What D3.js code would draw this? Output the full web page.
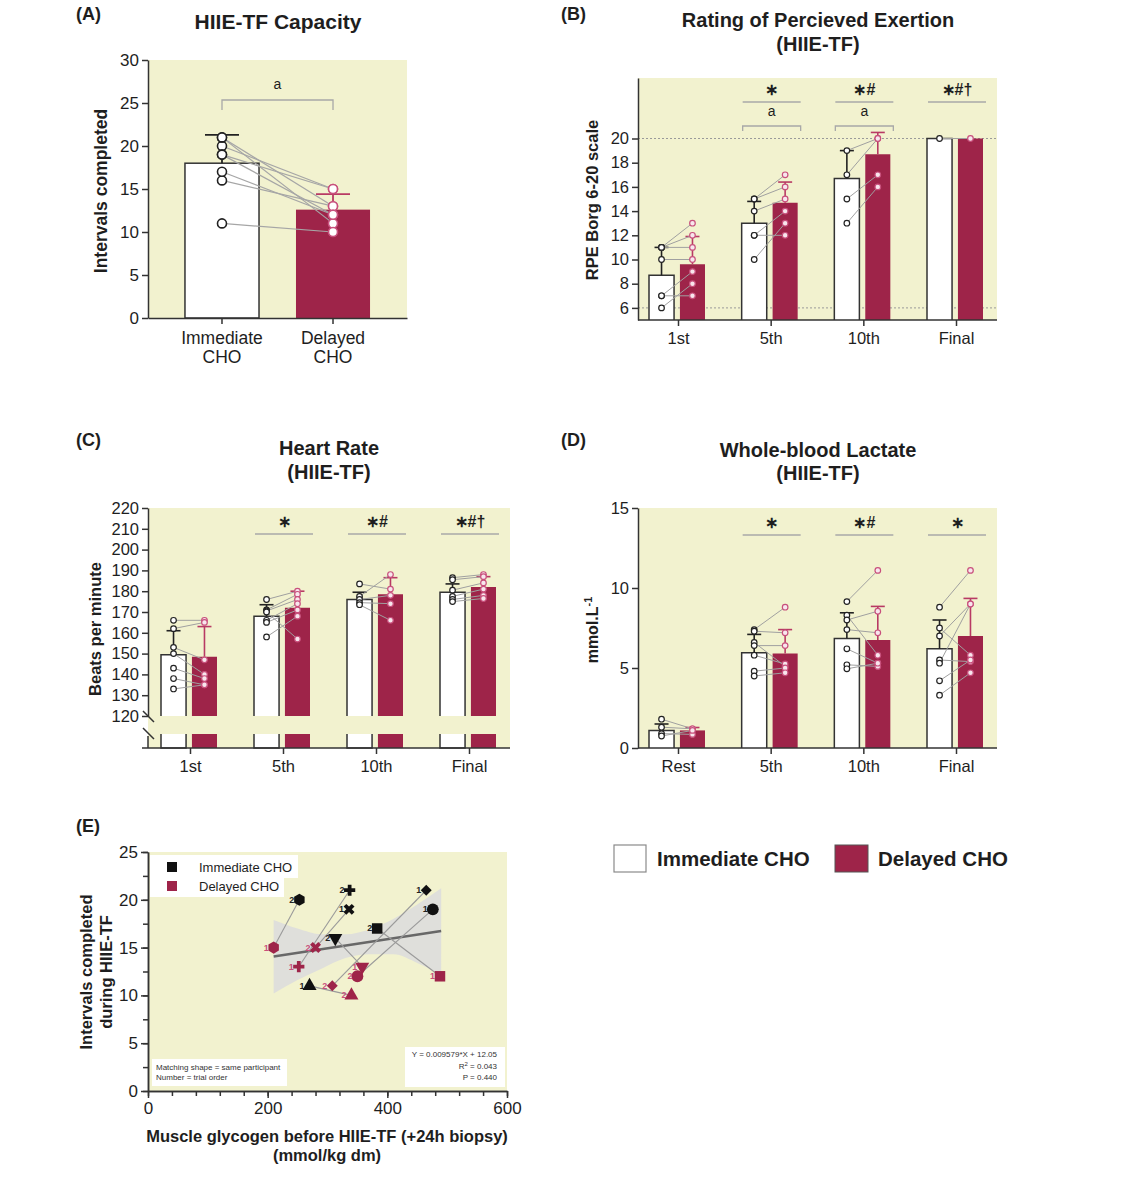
<!DOCTYPE html>
<html>
<head>
<meta charset="utf-8">
<script src="https://cdn.jsdelivr.net/npm/d3@7"></script>
<style>body{margin:0;background:#fff}</style>
</head>
<body>
<div id="chart"></div>
<script>
// ---- (A) capacity ----
const capLabels = ["Immediate", "Delayed"];
const capMeans = [18.0, 12.6];
const capErrTop = [21.3, 14.4];
const capImm = [20, 21, 19, 16, 17, 21, 19, 11];
const capDel = [15, 13, 15, 13, 12, 11, 12, 10];

// ---- (B) RPE ----
const rpeStages = ["1st", "5th", "10th", "Final"];
const rpeImmMean = [8.7, 13.0, 16.7, 20];
const rpeDelMean = [9.6, 14.7, 18.7, 20];
const rpeImmErr = [11.0, 14.8, 19.0, 20];
const rpeDelErr = [11.9, 16.4, 20.5, 20];
const rpeImmPts = [[11, 11, 11, 10, 7, 7, 6], [15, 15, 14, 12, 12, 10], [19, 17, 15, 13], [20]];
const rpeDelPts = [[13, 12, 11, 10, 9, 7, 8], [17, 16, 15, 14, 12, 13], [20, 20, 17, 16], [20]];
const rpeStars = ["", "∗", "∗#", "∗#†"];
const rpeLetters = ["", "a", "a", ""];

// ---- (C) heart rate ----
const hrStages = ["1st", "5th", "10th", "Final"];
const hrImmMean = [149.5, 168, 176, 179.5];
const hrDelMean = [148.5, 172, 178.5, 182];
const hrImmErr = [161, 173.5, 179.5, 183.5];
const hrDelErr = [163, 180, 186.5, 187];
const hrImmPts = [[166, 162, 153, 150, 143, 138, 133], [176, 171, 170.5, 166, 165, 158, 170],
                  [183.5, 177.5, 176, 174.5, 173.5], [186.5, 185.5, 180.5, 177.5, 176, 175]];
const hrDelPts = [[166, 165, 147, 140, 138, 135, 135], [180, 178.5, 176, 174, 171, 168, 157],
                  [181, 188, 178, 174, 166], [188, 187, 184, 181, 178, 176.5]];
const hrStars = ["", "∗", "∗#", "∗#†"];

// ---- (D) lactate ----
const lacStages = ["Rest", "5th", "10th", "Final"];
const lacImmMean = [1.1, 5.95, 6.85, 6.2];
const lacDelMean = [1.1, 5.9, 6.75, 7.0];
const lacImmErr = [1.5, 7.1, 8.45, 8.0];
const lacDelErr = [1.28, 7.4, 8.85, 9.35];
const lacImmPts = [[1.8, 1.3, 0.9, 0.75], [7.4, 7.3, 6.6, 6.4, 5.8, 4.8, 4.5],
                   [9.15, 8.3, 8.0, 7.4, 6.2, 5.2, 4.95], [8.8, 7.5, 7.0, 5.5, 5.3, 4.2, 3.3]];
const lacDelPts = [[1.2, 1.2, 0.85, 1.1], [8.8, 7.2, 5.1, 6.4, 5.25, 5.0, 4.7],
                   [11.1, 5.8, 8.55, 7.2, 5.3, 5.1, 5.3], [11.1, 5.8, 9.0, 5.4, 9.0, 5.5, 4.7]];
const lacStars = ["", "∗", "∗#", "∗"];

// ---- (E) glycogen vs intervals ----
const glyShapes = ["hexagon", "plus", "times", "triDown", "square", "diamond", "circle", "triUp"];
const glyImmX = [253, 337, 336, 313, 383, 465, 476, 270];
const glyImmOrder = [2, 2, 1, 2, 2, 1, 1, 1];
const glyDelX = [210, 252, 280, 358, 488, 308, 350, 340];
const glyDelOrder = [1, 1, 2, 1, 1, 2, 2, 2];
const regSlope = 0.009579, regIntercept = 12.05;
const regRange = [210, 490];
const bandX = [210, 250, 290, 330, 370, 410, 450, 490];
const bandUpper = [17.9, 17.0, 16.4, 16.4, 16.9, 18.0, 19.5, 21.2];
const bandLower = [10.2, 11.6, 12.8, 13.9, 14.3, 14.3, 13.4, 12.2];

const FONT = "'Liberation Sans', Arial, sans-serif";
const BG = "#f2f2cf";
const RED = "#9e2449";
const PINK = "#c8507c";
const INK = "#1e1e1e";

const svg = d3.select("#chart").append("svg")
    .attr("width", 1126)
    .attr("height", 1183)
    .style("font-family", FONT);

function txt(x, y, s, size, opt = {}) {
    return svg.append("text")
        .attr("x", x).attr("y", y)
        .attr("text-anchor", opt.anchor || "start")
        .attr("fill", opt.fill || INK)
        .style("font-size", size + "px")
        .style("font-weight", opt.bold ? "bold" : "normal")
        .text(s);
}
function vtxt(x, y, s, size) {
    return svg.append("text")
        .attr("transform", `translate(${x},${y}) rotate(-90)`)
        .attr("text-anchor", "middle")
        .attr("fill", INK)
        .style("font-size", size + "px")
        .style("font-weight", "bold")
        .text(s);
}
function styleAxis(g, size) {
    g.attr("font-family", null).attr("font-size", null);
    g.select(".domain").attr("stroke", "#333").attr("stroke-width", 1.5);
    g.selectAll(".tick line").attr("stroke", "#333").attr("stroke-width", 1.5);
    g.selectAll(".tick text").attr("fill", INK).style("font-size", size + "px");
}

// ================= Panel A =================
const aX = d3.scaleBand().domain(capLabels).range([148, 407]).paddingInner(0.333).paddingOuter(0.333);
const aY = d3.scaleLinear().domain([0, 30]).range([318, 60]);
svg.append("rect").attr("x", 148).attr("y", 60).attr("width", 259).attr("height", 258).attr("fill", BG);

svg.append("g").selectAll("rect")
    .data(capLabels)
    .join("rect")
    .attr("x", d => aX(d))
    .attr("y", (d, i) => aY(capMeans[i]))
    .attr("width", aX.bandwidth())
    .attr("height", (d, i) => aY(0) - aY(capMeans[i]))
    .attr("fill", (d, i) => i === 0 ? "#fff" : RED)
    .attr("stroke", (d, i) => i === 0 ? "#333" : "none")
    .attr("stroke-width", 1.5);

capLabels.forEach((c, i) => {
    const cx = aX(c) + aX.bandwidth() / 2;
    const col = i === 0 ? "#222" : "#b83a64";
    svg.append("line").attr("x1", cx).attr("x2", cx).attr("y1", aY(capMeans[i])).attr("y2", aY(capErrTop[i]))
        .attr("stroke", col).attr("stroke-width", 1.8);
    svg.append("line").attr("x1", cx - 17).attr("x2", cx + 17).attr("y1", aY(capErrTop[i])).attr("y2", aY(capErrTop[i]))
        .attr("stroke", col).attr("stroke-width", 1.8);
});

const aC0 = aX(capLabels[0]) + aX.bandwidth() / 2;
const aC1 = aX(capLabels[1]) + aX.bandwidth() / 2;
svg.append("g").selectAll("line")
    .data(capImm)
    .join("line")
    .attr("x1", aC0).attr("x2", aC1)
    .attr("y1", d => aY(d)).attr("y2", (d, k) => aY(capDel[k]))
    .attr("stroke", "#a6a6a6").attr("stroke-width", 1.2);
svg.append("g").selectAll("circle")
    .data(capImm)
    .join("circle")
    .attr("cx", aC0).attr("cy", d => aY(d)).attr("r", 4.5)
    .attr("fill", "#fff").attr("stroke", "#222").attr("stroke-width", 1.6);
svg.append("g").selectAll("circle")
    .data(capDel)
    .join("circle")
    .attr("cx", aC1).attr("cy", d => aY(d)).attr("r", 4.5)
    .attr("fill", "#fff").attr("stroke", PINK).attr("stroke-width", 1.6);

svg.append("g").attr("transform", "translate(148,0)")
    .call(d3.axisLeft(aY).tickValues(d3.range(0, 31, 5)).tickSize(6).tickSizeOuter(0).tickPadding(3))
    .call(g => styleAxis(g, 17));
svg.append("g").attr("transform", "translate(0,318)")
    .call(d3.axisBottom(aX).tickSize(6).tickSizeOuter(0).tickFormat(""))
    .call(g => styleAxis(g, 17));
capLabels.forEach(c => {
    const cx = aX(c) + aX.bandwidth() / 2;
    txt(cx, 344, c, 17.5, {anchor: "middle"});
    txt(cx, 363, "CHO", 17.5, {anchor: "middle"});
});
svg.append("path").attr("d", `M${aC0},110V100H${aC1}V110`).attr("fill", "none")
    .attr("stroke", "#a8a8a8").attr("stroke-width", 1.3);
txt((aC0 + aC1) / 2, 89, "a", 14, {anchor: "middle"});

txt(76, 20, "(A)", 18, {bold: true});
txt(278, 29, "HIIE-TF Capacity", 21, {anchor: "middle", bold: true});
vtxt(107, 191, "Intervals completed", 17.5);

// ================= Bar panels B, C, D =================
function barPanel(p) {
    svg.append("rect").attr("x", p.left).attr("y", p.top)
        .attr("width", p.right - p.left).attr("height", p.bottom - p.top).attr("fill", BG);
    const x = d3.scalePoint().domain(p.stages).range(p.groupRange);
    const inner = d3.scaleBand().domain(["imm", "del"]).range([-29, 27]).paddingInner(0.19);
    const y = d3.scaleLinear().domain(p.yDomain).range([p.yBase, p.top]);
    const bw = inner.bandwidth();

    (p.refLines || []).forEach(v => {
        svg.append("line").attr("x1", p.left).attr("x2", p.right).attr("y1", y(v)).attr("y2", y(v))
            .attr("stroke", "#9a9a9a").attr("stroke-width", 1).attr("stroke-dasharray", "2,2");
    });

    const bars = [];
    p.stages.forEach((s, i) => {
        bars.push({s, i, key: "imm", mean: p.immMean[i], err: p.immErr[i], pts: p.immPts[i]});
        bars.push({s, i, key: "del", mean: p.delMean[i], err: p.delErr[i], pts: p.delPts[i]});
    });
    const bx = d => x(d.s) + inner(d.key);
    const cx = d => bx(d) + bw / 2;
    const seg = (d, y0, y1) => `M${bx(d)},${y0}V${y1}H${bx(d) + bw}V${y0}`;

    svg.append("g").selectAll("path")
        .data(bars)
        .join("path")
        .attr("d", d => seg(d, p.yBase, y(d.mean)))
        .attr("fill", d => d.key === "imm" ? "#fff" : RED)
        .attr("stroke", d => d.key === "imm" ? "#333" : "none")
        .attr("stroke-width", 1.5);
    if (p.lowerSeg) {
        svg.append("g").selectAll("path")
            .data(bars)
            .join("path")
            .attr("d", d => seg(d, p.lowerSeg[0], p.lowerSeg[1]))
            .attr("fill", d => d.key === "imm" ? "#fff" : RED)
            .attr("stroke", d => d.key === "imm" ? "#333" : "none")
            .attr("stroke-width", 1.5);
    }

    const errs = bars.filter(d => d.err > d.mean);
    const errCol = d => d.key === "imm" ? "#222" : "#b83a64";
    svg.append("g").selectAll("line")
        .data(errs)
        .join("line")
        .attr("x1", cx).attr("x2", cx)
        .attr("y1", d => y(d.mean)).attr("y2", d => y(d.err))
        .attr("stroke", errCol).attr("stroke-width", 1.6);
    svg.append("g").selectAll("line")
        .data(errs)
        .join("line")
        .attr("x1", d => cx(d) - 7).attr("x2", d => cx(d) + 7)
        .attr("y1", d => y(d.err)).attr("y2", d => y(d.err))
        .attr("stroke", errCol).attr("stroke-width", 1.6);

    const pairs = [];
    p.stages.forEach((s, i) => {
        p.immPts[i].forEach((v, k) => pairs.push({s, a: v, b: p.delPts[i][k]}));
    });
    svg.append("g").selectAll("line")
        .data(pairs)
        .join("line")
        .attr("x1", d => x(d.s) + inner("imm") + bw / 2)
        .attr("x2", d => x(d.s) + inner("del") + bw / 2)
        .attr("y1", d => y(d.a)).attr("y2", d => y(d.b))
        .attr("stroke", "#a0a0a0").attr("stroke-width", 1);

    const pts = [];
    bars.forEach(d => d.pts.forEach(v => pts.push({d, v})));
    svg.append("g").selectAll("circle")
        .data(pts)
        .join("circle")
        .attr("cx", o => cx(o.d)).attr("cy", o => y(o.v)).attr("r", 2.8)
        .attr("fill", o => o.d.key === "imm" ? "#fff" : "#f8e6ed")
        .attr("stroke", o => o.d.key === "imm" ? "#222" : PINK)
        .attr("stroke-width", 1.2);

    svg.append("g").attr("transform", `translate(${p.left},0)`)
        .call(d3.axisLeft(y).tickValues(p.yTicks).tickSize(6).tickSizeOuter(0).tickPadding(3))
        .call(g => styleAxis(g, 16.5));
    svg.append("g").attr("transform", `translate(0,${p.bottom})`)
        .call(d3.axisBottom(x).tickSize(6).tickSizeOuter(0).tickPadding(6))
        .call(g => styleAxis(g, 16.5))
        .call(g => g.select(".domain").attr("d", `M${p.axisStart || p.left},0H${p.right}`));

    p.stages.forEach((s, i) => {
        if (p.stars[i]) {
            svg.append("line").attr("x1", x(s) - 28).attr("x2", x(s) + 30)
                .attr("y1", p.sigLineY).attr("y2", p.sigLineY)
                .attr("stroke", "#a8a8a8").attr("stroke-width", 1.3);
            txt(x(s) + 1, p.starY, p.stars[i], 16, {anchor: "middle", bold: true});
        }
        if (p.letters && p.letters[i]) {
            txt(x(s) + 1, p.letterY, p.letters[i], 14, {anchor: "middle"});
            svg.append("path")
                .attr("d", `M${x(s) - 28},${p.bracketY + 5}V${p.bracketY}H${x(s) + 30}V${p.bracketY + 5}`)
                .attr("fill", "none").attr("stroke", "#a8a8a8").attr("stroke-width", 1.3);
        }
    });
    return {x, y};
}

// Panel B
barPanel({
    stages: rpeStages, immMean: rpeImmMean, delMean: rpeDelMean, immErr: rpeImmErr, delErr: rpeDelErr,
    immPts: rpeImmPts, delPts: rpeDelPts, stars: rpeStars, letters: rpeLetters,
    left: 638, right: 997, top: 78, bottom: 320, yBase: 320, yDomain: [5, 25],
    yTicks: d3.range(6, 21, 2), groupRange: [678, 956], refLines: [20, 6],
    sigLineY: 102, starY: 95, letterY: 116, bracketY: 126
});
txt(561, 20, "(B)", 18, {bold: true});
txt(818, 27, "Rating of Percieved Exertion", 20, {anchor: "middle", bold: true});
txt(818, 51, "(HIIE-TF)", 20, {anchor: "middle", bold: true});
vtxt(598, 200, "RPE Borg 6-20 scale", 16.5);

// Panel C
barPanel({
    stages: hrStages, immMean: hrImmMean, delMean: hrDelMean, immErr: hrImmErr, delErr: hrDelErr,
    immPts: hrImmPts, delPts: hrDelPts, stars: hrStars,
    left: 148, right: 510, top: 508, bottom: 748, yBase: 716, yDomain: [120, 220],
    yTicks: d3.range(120, 221, 10), groupRange: [190, 469], lowerSeg: [734, 748], axisStart: 142,
    sigLineY: 534, starY: 527
});
// axis break marks
svg.append("g").attr("stroke", "#333").attr("stroke-width", 1.5)
    .call(g => g.append("line").attr("x1", 143).attr("y1", 711).attr("x2", 154).attr("y2", 722))
    .call(g => g.append("line").attr("x1", 143).attr("y1", 728).attr("x2", 154).attr("y2", 739))
    .call(g => g.append("line").attr("x1", 148).attr("y1", 736).attr("x2", 148).attr("y2", 748));
txt(76, 446, "(C)", 18, {bold: true});
txt(329, 455, "Heart Rate", 20, {anchor: "middle", bold: true});
txt(329, 479, "(HIIE-TF)", 20, {anchor: "middle", bold: true});
vtxt(101, 629, "Beats per minute", 16.5);

// Panel D
barPanel({
    stages: lacStages, immMean: lacImmMean, delMean: lacDelMean, immErr: lacImmErr, delErr: lacDelErr,
    immPts: lacImmPts, delPts: lacDelPts, stars: lacStars,
    left: 638, right: 997, top: 508, bottom: 748, yBase: 748, yDomain: [0, 15],
    yTicks: [0, 5, 10, 15], groupRange: [678, 956],
    sigLineY: 535, starY: 528
});
txt(561, 446, "(D)", 18, {bold: true});
txt(818, 457, "Whole-blood Lactate", 20, {anchor: "middle", bold: true});
txt(818, 480, "(HIIE-TF)", 20, {anchor: "middle", bold: true});
vtxt(598, 630, "mmol.L", 16).append("tspan").attr("dy", -6).style("font-size", "11px").text("-1");

// ================= Panel E =================
const eX = d3.scaleLinear().domain([0, 600]).range([148, 507]);
const eY = d3.scaleLinear().domain([0, 25]).range([1091, 852]);
svg.append("rect").attr("x", 148).attr("y", 852).attr("width", 359).attr("height", 239).attr("fill", BG);

const band = bandX.map((v, i) => [v, bandUpper[i], bandLower[i]]);
svg.append("path").datum(band)
    .attr("d", d3.area().x(d => eX(d[0])).y0(d => eY(d[2])).y1(d => eY(d[1])).curve(d3.curveMonotoneX))
    .attr("fill", "#dfdfdb");
svg.append("line")
    .attr("x1", eX(regRange[0])).attr("y1", eY(regSlope * regRange[0] + regIntercept))
    .attr("x2", eX(regRange[1])).attr("y2", eY(regSlope * regRange[1] + regIntercept))
    .attr("stroke", "#686868").attr("stroke-width", 2.6);

// legend inside E
svg.append("rect").attr("x", 150).attr("y", 855).attr("width", 148).attr("height", 23).attr("fill", "#fff");
svg.append("rect").attr("x", 150).attr("y", 877).attr("width", 134).attr("height", 20).attr("fill", "#fff");
svg.append("rect").attr("x", 167).attr("y", 862).attr("width", 10).attr("height", 10).attr("fill", "#111");
svg.append("rect").attr("x", 167).attr("y", 881).attr("width", 10).attr("height", 10).attr("fill", RED);
txt(199, 872, "Immediate CHO", 13);
txt(199, 891, "Delayed CHO", 13);

const hexagon = {
    draw(ctx, size) {
        const r = Math.sqrt(2 * size / (3 * Math.sqrt(3)));
        for (let k = 0; k < 6; k++) {
            const a = Math.PI / 6 + k * Math.PI / 3;
            if (k === 0) ctx.moveTo(r * Math.cos(a), r * Math.sin(a));
            else ctx.lineTo(r * Math.cos(a), r * Math.sin(a));
        }
        ctx.closePath();
    }
};
const shapeDefs = {
    hexagon: [hexagon, 0, 95], plus: [d3.symbolCross, 0, 70], times: [d3.symbolCross, 45, 75],
    triDown: [d3.symbolTriangle, 180, 85], square: [d3.symbolSquare, 0, 110],
    diamond: [d3.symbolSquare, 45, 60], circle: [d3.symbolCircle, 0, 110], triUp: [d3.symbolTriangle, 0, 85]
};

const marks = [];
glyShapes.forEach((sh, i) => {
    marks.push({sh, gx: glyImmX[i], gy: capImm[i], n: glyImmOrder[i], col: "#111", lab: "#222"});
    marks.push({sh, gx: glyDelX[i], gy: capDel[i], n: glyDelOrder[i], col: RED, lab: PINK});
});
svg.append("g").selectAll("line")
    .data(glyShapes)
    .join("line")
    .attr("x1", (d, i) => eX(glyImmX[i])).attr("y1", (d, i) => eY(capImm[i]))
    .attr("x2", (d, i) => eX(glyDelX[i])).attr("y2", (d, i) => eY(capDel[i]))
    .attr("stroke", "#9a9a9a").attr("stroke-width", 1.1);
svg.append("g").selectAll("path")
    .data(marks)
    .join("path")
    .attr("transform", d => `translate(${eX(d.gx)},${eY(d.gy)}) rotate(${shapeDefs[d.sh][1]})`)
    .attr("d", d => d3.symbol().type(shapeDefs[d.sh][0]).size(shapeDefs[d.sh][2])())
    .attr("fill", d => d.col);
svg.append("g").selectAll("text")
    .data(marks)
    .join("text")
    .attr("x", d => eX(d.gx) - 5).attr("y", d => eY(d.gy) + 3)
    .attr("text-anchor", "end")
    .attr("fill", d => d.lab)
    .style("font-size", "9px").style("font-weight", "bold")
    .text(d => d.n);

svg.append("g").attr("transform", "translate(148,0)")
    .call(d3.axisLeft(eY).tickValues(d3.range(0, 25.1, 2.5)).tickSize(5).tickSizeOuter(0).tickFormat(""))
    .call(g => styleAxis(g, 17));
svg.append("g").attr("transform", "translate(148,0)")
    .call(d3.axisLeft(eY).tickValues(d3.range(0, 26, 5)).tickSize(7).tickSizeOuter(0).tickPadding(3))
    .call(g => styleAxis(g, 17));
svg.append("g").attr("transform", "translate(0,1091)")
    .call(d3.axisBottom(eX).tickValues(d3.range(0, 601, 40)).tickSize(5).tickSizeOuter(0).tickFormat(""))
    .call(g => styleAxis(g, 17));
svg.append("g").attr("transform", "translate(0,1091)")
    .call(d3.axisBottom(eX).tickValues([0, 200, 400, 600]).tickSize(7).tickSizeOuter(0).tickPadding(4))
    .call(g => styleAxis(g, 17));

// note boxes
svg.append("rect").attr("x", 152).attr("y", 1059).attr("width", 135).attr("height", 27).attr("fill", "#fff");
txt(156, 1070, "Matching shape = same participant", 8, {fill: "#333"});
txt(156, 1080, "Number = trial order", 8, {fill: "#333"});
svg.append("rect").attr("x", 405).attr("y", 1047).attr("width", 100).attr("height", 40).attr("fill", "#fff");
txt(497, 1057, "Y = 0.009579*X + 12.05", 8, {anchor: "end", fill: "#333"});
const r2 = txt(497, 1069, "R", 8, {anchor: "end", fill: "#333"});
r2.append("tspan").attr("dy", -3).style("font-size", "6px").text("2");
r2.append("tspan").attr("dy", 3).text(" = 0.043");
txt(497, 1080, "P = 0.440", 8, {anchor: "end", fill: "#333"});

txt(76, 832, "(E)", 18, {bold: true});
vtxt(92, 972, "Intervals completed", 16.5);
vtxt(112, 972, "during HIIE-TF", 16.5);
txt(327, 1142, "Muscle glycogen before HIIE-TF (+24h biopsy)", 16.5, {anchor: "middle", bold: true});
txt(327, 1161, "(mmol/kg dm)", 16.5, {anchor: "middle", bold: true});

// ================= main legend =================
svg.append("rect").attr("x", 614).attr("y", 845).attr("width", 32).attr("height", 27)
    .attr("fill", "#fff").attr("stroke", "#8a8a8a").attr("stroke-width", 1.2);
txt(657, 866, "Immediate CHO", 20.5, {bold: true});
svg.append("rect").attr("x", 835).attr("y", 845).attr("width", 33).attr("height", 27)
    .attr("fill", RED).attr("stroke", "#555").attr("stroke-width", 1);
txt(878, 866, "Delayed CHO", 20.5, {bold: true});
</script>
</body>
</html>
